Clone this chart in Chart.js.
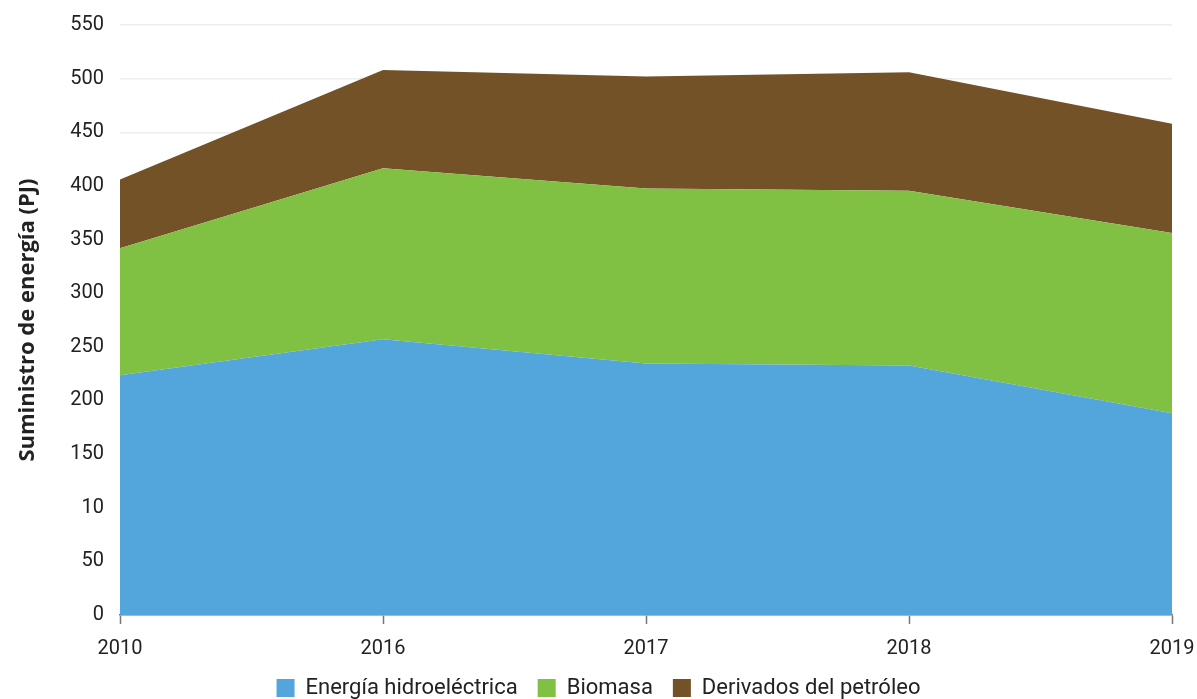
<!DOCTYPE html>
<html>
<head>
<meta charset="utf-8">
<script src="https://cdn.jsdelivr.net/npm/chart.js@4"></script>
<style>
  html, body { margin: 0; padding: 0; background: #ffffff; }
  #wrap { width: 1197px; height: 699px; }
</style>
</head>
<body>
<div id="wrap"><canvas id="c"></canvas></div>
<script>
const years = ['2010', '2016', '2017', '2018', '2019'];
const hydro = [223.5, 257, 234.5, 232.5, 188];
const biomass = [118.5, 159.5, 163, 163, 168];
const oil = [64, 91.5, 104.5, 110.5, 102];
const yTickLabels = { 0: '0', 50: '50', 100: '10', 150: '150', 200: '200', 250: '250', 300: '300', 350: '350', 400: '400', 450: '450', 500: '500', 550: '550' };
const seriesNames = ['Energía hidroeléctrica', 'Biomasa', 'Derivados del petróleo'];
const colors = ['#52A6DC', '#80C042', '#745227'];

const FONT = 'Roboto, "Open Sans", sans-serif';
Chart.defaults.font.family = FONT;
Chart.defaults.color = '#222222';

function ds(label, data, color, fill) {
  return {
    label, data,
    backgroundColor: color,
    borderColor: color,
    borderWidth: 0,
    pointRadius: 0,
    pointHoverRadius: 0,
    tension: 0,
    fill
  };
}

new Chart(document.getElementById('c'), {
  type: 'line',
  data: {
    labels: years,
    datasets: [
      ds(seriesNames[0], hydro, colors[0], 'origin'),
      ds(seriesNames[1], biomass, colors[1], '-1'),
      ds(seriesNames[2], oil, colors[2], '-1')
    ]
  },
  options: {
    responsive: true,
    maintainAspectRatio: false,
    animation: false,
    layout: { padding: { left: 0, right: 0, top: 25, bottom: -10 } },
    plugins: {
      tooltip: { enabled: false },
      legend: {
        position: 'bottom',
        labels: {
          boxWidth: 18, boxHeight: 18, padding: 20,
          color: '#222222',
          font: { size: 22, family: FONT }
        }
      }
    },
    scales: {
      x: {
        offset: false,
        grid: { display: true, drawOnChartArea: false, drawTicks: true, tickLength: 9, color: '#777777', tickWidth: 1.5 },
        border: { display: true, color: '#777777', width: 1.5 },
        ticks: { color: '#222222', font: { size: 20, family: FONT }, padding: 13, maxRotation: 0, autoSkip: false },
        afterFit(scale) { scale.height = 42; scale.paddingLeft = 0; scale.paddingRight = 25; }
      },
      y: {
        stacked: true,
        min: 0, max: 550,
        grid: { color: '#eeeeee', lineWidth: 1.5, drawTicks: false },
        border: { display: false },
        ticks: {
          stepSize: 50,
          padding: 16,
          color: '#222222',
          font: { size: 20, family: FONT },
          callback: (v) => yTickLabels[v]
        },
        title: {
          display: true,
          text: 'Suministro de energía (PJ)',
          color: '#222222',
          font: { size: 22, weight: 'bold', family: '"Open Sans", sans-serif' },
          padding: { top: 15, bottom: 6 }
        },
        afterFit(scale) { scale.width = 120; scale.paddingTop = 0; scale.paddingBottom = 0; }
      }
    }
  }
});
</script>
</body>
</html>
